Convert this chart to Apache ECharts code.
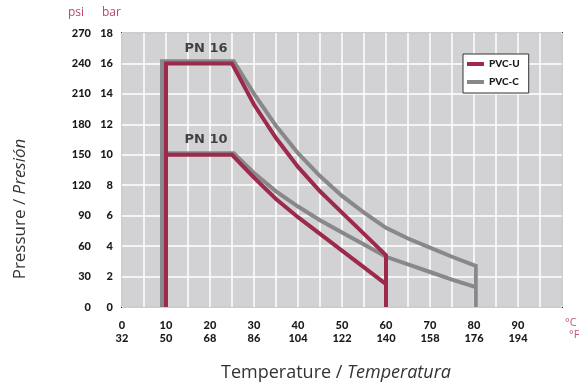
<!DOCTYPE html>
<html>
<head>
<meta charset="utf-8">
<script src="https://cdn.jsdelivr.net/npm/echarts@6/dist/echarts.min.js"></script>
<style>html,body{margin:0;padding:0;background:#fff}#c{width:579px;height:387px}</style>
</head>
<body>
<div id="c"></div>
<script>
// Tick labels
const celsiusTicks = [0, 10, 20, 30, 40, 50, 60, 70, 80, 90];
const fahrenheitTicks = [32, 50, 68, 86, 104, 122, 140, 158, 176, 194];
const barTicks = [0, 2, 4, 6, 8, 10, 12, 14, 16, 18];
const psiTicks = [0, 30, 60, 90, 120, 150, 180, 210, 240, 270];

// Series values [temperature °C, pressure bar]
const pvcU_PN16 = [[10, 0], [10, 16], [25, 16], [30, 13.3], [35, 11.1], [40, 9.2], [45, 7.6], [50, 6.2], [55, 4.8], [60, 3.4], [60, 0]];
const pvcU_PN10 = [[10, 10], [25, 10], [30, 8.5], [35, 7.1], [40, 5.9], [45, 4.8], [50, 3.7], [55, 2.6], [60, 1.5]];
const pvcC_PN16 = [[9.1, 0], [9.1, 16.15], [25.4, 16.15], [30, 14.0], [35, 11.9], [40, 10.1], [45, 8.6], [50, 7.3], [55, 6.2], [60, 5.2], [65, 4.5], [70, 3.9], [75, 3.3], [80.4, 2.7], [80.4, 0]];
const pvcC_PN10 = [[9.1, 10.1], [25.4, 10.1], [30, 8.8], [35, 7.6], [40, 6.6], [45, 5.7], [50, 4.9], [55, 4.1], [60, 3.3], [65, 2.8], [70, 2.3], [75, 1.8], [80.4, 1.3]];

// Annotations
const pnLabels = [[19.1, 16.95, 'PN 16'], [19.1, 10.97, 'PN 10']];

const RED = '#9c2a4b';
const GRAY = '#88888a';
const TICK_FONT = 'Lato';

const chart = echarts.init(document.getElementById('c'), null, {renderer: 'canvas'});

function lineSeries(name, data, color, z) {
  return {
    type: 'line', name: name, data: data, showSymbol: false, symbol: 'none',
    z: z, silent: true, animation: false,
    lineStyle: {color: color, width: 4, join: 'miter', cap: 'butt'},
    itemStyle: {color: color}
  };
}

chart.setOption({
  animation: false,
  backgroundColor: '#ffffff',
  grid: {left: 122, top: 33, width: 440, height: 274, show: true, backgroundColor: '#d2d2d4', borderColor: '#3a3a3a', borderWidth: 2},
  xAxis: {
    type: 'value', min: 0, max: 100, interval: 5,
    axisLine: {show: false}, axisTick: {show: false},
    splitLine: {show: true, lineStyle: {color: '#ffffff', width: 1.5}},
    axisLabel: {
      margin: 12, color: '#1a1a1a', fontFamily: TICK_FONT, fontWeight: 900, fontSize: 11, lineHeight: 13,
      formatter: function (v) {
        const i = celsiusTicks.indexOf(v);
        return i < 0 ? '' : celsiusTicks[i] + '\n' + fahrenheitTicks[i];
      }
    }
  },
  yAxis: [{
    type: 'value', min: 0, max: 18, interval: 2,
    axisLine: {show: false}, axisTick: {show: false},
    splitLine: {show: true, lineStyle: {color: '#ffffff', width: 1.5}},
    axisLabel: {
      margin: 9, color: '#1a1a1a', fontFamily: TICK_FONT, fontWeight: 900, fontSize: 11,
      formatter: function (v) { const i = barTicks.indexOf(v); return i < 0 ? '' : String(barTicks[i]); }
    }
  }, {
    type: 'value', position: 'left', min: 0, max: 18, interval: 2,
    axisLine: {show: false}, axisTick: {show: false}, splitLine: {show: false},
    axisLabel: {
      margin: 31, color: '#1a1a1a', fontFamily: TICK_FONT, fontWeight: 900, fontSize: 11,
      formatter: function (v) { const i = barTicks.indexOf(v); return i < 0 ? '' : String(psiTicks[i]); }
    }
  }],
  legend: {
    data: ['PVC-U', 'PVC-C'], orient: 'vertical', left: 463, top: 54,
    backgroundColor: '#ffffff', borderColor: '#333', borderWidth: 1,
    padding: [4, 9, 5, 4], itemGap: 6, itemWidth: 17, itemHeight: 4, icon: 'rect',
    selectedMode: false,
    textStyle: {color: '#1a1a1a', fontFamily: TICK_FONT, fontWeight: 900, fontSize: 10, lineHeight: 12}
  },
  series: [
    lineSeries('PVC-C', pvcC_PN16, GRAY, 2),
    lineSeries('PVC-C', pvcC_PN10, GRAY, 2),
    lineSeries('PVC-U', pvcU_PN16, RED, 3),
    lineSeries('PVC-U', pvcU_PN10, RED, 3),
    {
      type: 'scatter', name: 'labels', symbolSize: 0, silent: true, z: 4,
      data: pnLabels.map(d => ({value: [d[0], d[1]], name: d[2]})),
      label: {show: true, position: 'inside', formatter: p => p.name, color: '#1a1a1a', fontFamily: 'DejaVu Sans', fontWeight: 'bold', fontSize: 13}
    }
  ],
  graphic: [
    {type: 'text', left: 68, top: 7, silent: true, style: {text: 'psi', fill: '#b9486c', font: '12px "Open Sans"'}},
    {type: 'text', left: 102, top: 7, silent: true, style: {text: 'bar', fill: '#b9486c', font: '12px "Open Sans"'}},
    {type: 'text', left: 565, top: 317, silent: true, style: {text: '°C', fill: '#c0587a', font: '11px "Open Sans"'}},
    {type: 'text', left: 569, top: 329, silent: true, style: {text: '°F', fill: '#c0587a', font: '11px "Open Sans"'}},
    {type: 'text', x: 336, y: 373, silent: true, style: {
      text: '{a|Temperature / }{b|Temperatura}', align: 'center', verticalAlign: 'middle',
      rich: {a: {fontFamily: 'Open Sans', fontSize: 18, fill: '#333'}, b: {fontFamily: 'Open Sans', fontSize: 18, fontStyle: 'italic', fill: '#333'}}
    }},
    {type: 'text', x: 20, y: 209, rotation: Math.PI / 2, silent: true, style: {
      text: '{a|Pressure / }{b|Presión}', align: 'center', verticalAlign: 'middle',
      rich: {a: {fontFamily: 'Open Sans', fontSize: 17, fill: '#333'}, b: {fontFamily: 'Open Sans', fontSize: 17, fontStyle: 'italic', fill: '#333'}}
    }}
  ]
});
</script>
</body>
</html>
